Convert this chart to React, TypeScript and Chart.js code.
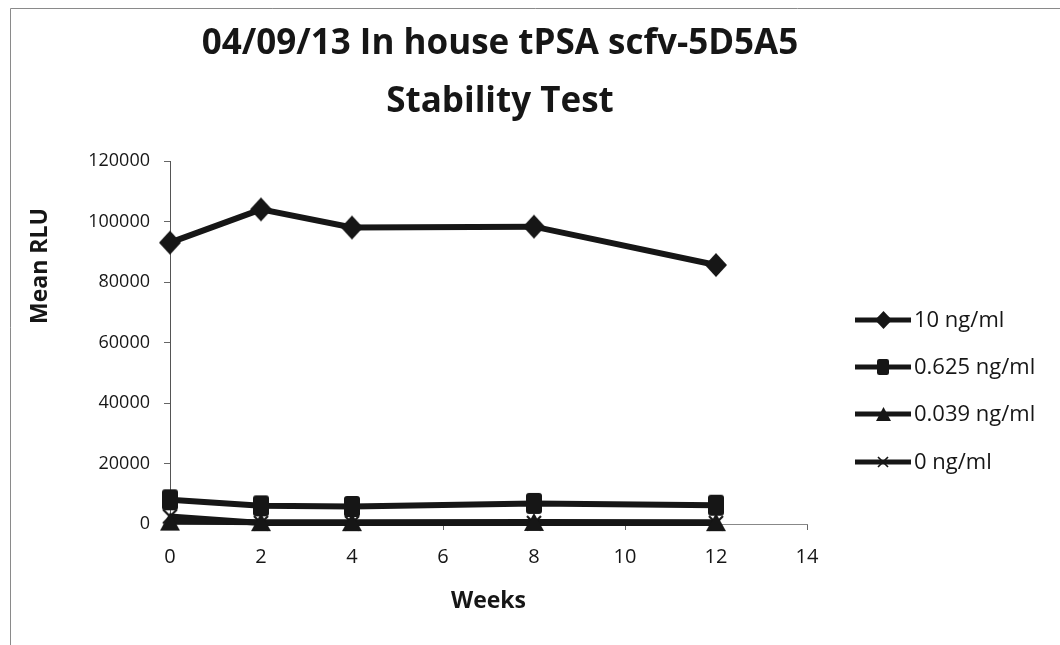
import React, { useEffect, useRef } from "react";
import { Chart, registerables } from "chart.js";

Chart.register(...registerables);

const weeks = [0, 2, 4, 8, 12];
const series10 = [93000, 104000, 98000, 98300, 85600];
const series0625 = [8000, 6000, 5800, 6800, 6200];
const series0039 = [800, 600, 600, 700, 600];
const series0 = [2500, 300, 300, 300, 300];
const seriesLabels = ["10 ng/ml", "0.625 ng/ml", "0.039 ng/ml", "0 ng/ml"];
const titleLines = ["04/09/13 In house tPSA scfv-5D5A5", "Stability Test"];
const xTitle = "Weeks";
const yTitle = "Mean RLU";

const INK = "#161616";
const FONT = "'Open Sans', 'DejaVu Sans', sans-serif";

type Shape = "diamond" | "square" | "triangle" | "cross";

function makeMarker(shape: Shape, scale: number): HTMLCanvasElement {
  const dims: Record<Shape, [number, number]> = {
    diamond: [22, 24],
    square: [16, 21],
    triangle: [20, 18],
    cross: [16, 16],
  };
  const [w0, h0] = dims[shape];
  const w = Math.round(w0 * scale);
  const h = Math.round(h0 * scale);
  const c = document.createElement("canvas");
  c.width = w + 2;
  c.height = h + 2;
  const g = c.getContext("2d")!;
  g.fillStyle = INK;
  g.strokeStyle = INK;
  g.translate(1, 1);
  g.beginPath();
  if (shape === "diamond") {
    g.moveTo(w / 2, 0);
    g.lineTo(w, h / 2);
    g.lineTo(w / 2, h);
    g.lineTo(0, h / 2);
    g.closePath();
    g.fill();
  } else if (shape === "square") {
    (g as any).roundRect(0, 0, w, h, 3 * scale);
    g.fill();
  } else if (shape === "triangle") {
    g.moveTo(w / 2, 0);
    g.lineTo(w, h);
    g.lineTo(0, h);
    g.closePath();
    g.fill();
  } else {
    g.lineWidth = 2.2 * scale;
    g.moveTo(1, 1);
    g.lineTo(w - 1, h - 1);
    g.moveTo(w - 1, 1);
    g.lineTo(1, h - 1);
    g.stroke();
  }
  return c;
}

const shapes: Shape[] = ["diamond", "square", "triangle", "cross"];

const decorPlugin = {
  id: "decor",
  afterDraw(chart: any) {
    const ctx: CanvasRenderingContext2D = chart.ctx;
    const area = chart.chartArea;
    ctx.save();
    // frame
    ctx.strokeStyle = "#8a8a8a";
    ctx.lineWidth = 1;
    ctx.beginPath();
    ctx.moveTo(10.5, 660);
    ctx.lineTo(10.5, 8.5);
    ctx.lineTo(1060, 8.5);
    ctx.stroke();

    // title
    ctx.fillStyle = INK;
    ctx.textAlign = "center";
    ctx.textBaseline = "alphabetic";
    ctx.font = `bold 35px ${FONT}`;
    ctx.fillText(titleLines[0], 500, 54);
    ctx.fillText(titleLines[1], 500, 112);

    // axis titles
    ctx.textBaseline = "middle";
    ctx.font = `bold 23px ${FONT}`;
    ctx.fillText(xTitle, (area.left + area.right) / 2, 601);
    ctx.save();
    ctx.translate(40, 266);
    ctx.rotate(-Math.PI / 2);
    ctx.fillText(yTitle, 0, 0);
    ctx.restore();

    // legend
    const ys = [320, 367, 414, 462];
    ctx.font = `22px ${FONT}`;
    ctx.textAlign = "left";
    chart.data.datasets.forEach((ds: any, i: number) => {
      const y = ys[i];
      ctx.strokeStyle = INK;
      ctx.lineWidth = 5;
      ctx.beginPath();
      ctx.moveTo(855, y);
      ctx.lineTo(911, y);
      ctx.stroke();
      const m = makeMarker(shapes[i], 0.75);
      ctx.drawImage(m, Math.round(883 - m.width / 2), Math.round(y - m.height / 2));
      ctx.fillStyle = INK;
      ctx.fillText(ds.label, 914, y + 1);
    });
    ctx.restore();
  },
};

export default function App() {
  const ref = useRef<HTMLCanvasElement | null>(null);
  useEffect(() => {
    document.body.style.margin = "0";
    const toPts = (vals: number[]) => weeks.map((w, i) => ({ x: w, y: vals[i] }));
    const common = {
      borderColor: INK,
      backgroundColor: INK,
      pointBackgroundColor: INK,
      pointBorderColor: INK,
      borderWidth: 6,
      tension: 0,
      pointRadius: 11,
      clip: false as any,
    };
    const chart = new Chart(ref.current!, {
      type: "line",
      data: {
        datasets: [
          { ...common, label: seriesLabels[0], data: toPts(series10), pointStyle: makeMarker("diamond", 1) as any },
          { ...common, label: seriesLabels[1], data: toPts(series0625), pointStyle: makeMarker("square", 1) as any },
          { ...common, label: seriesLabels[2], data: toPts(series0039), pointStyle: makeMarker("triangle", 1) as any },
          { ...common, label: seriesLabels[3], data: toPts(series0), pointStyle: makeMarker("cross", 1) as any },
        ],
      },
      options: {
        animation: false,
        responsive: false,
        layout: { padding: { top: 161, right: 253, left: 0, bottom: 0 } },
        plugins: { legend: { display: false }, title: { display: false }, tooltip: { enabled: false } },
        scales: {
          x: {
            type: "linear",
            min: 0,
            max: 14,
            afterFit: (s: any) => { s.height = 645 - 524; },
            ticks: { stepSize: 2, color: INK, font: { family: FONT, size: 20 }, padding: 15, maxRotation: 0 },
            grid: { drawOnChartArea: false, drawTicks: true, tickLength: 6, color: "#666" },
            border: { color: "#888", width: 1 },
          },
          y: {
            min: 0,
            max: 120000,
            afterFit: (s: any) => { s.width = 170; },
            ticks: {
              stepSize: 20000,
              color: INK,
              font: { family: FONT, size: 18 },
              padding: 14,
              callback: (v: any) => String(v),
            },
            grid: { drawOnChartArea: false, drawTicks: true, tickLength: 6, color: "#666" },
            border: { color: "#555", width: 1 },
          },
        },
      },
      plugins: [decorPlugin],
    });
    return () => chart.destroy();
  }, []);
  return <canvas ref={ref} width={1060} height={645} style={{ display: "block" }} />;
}
